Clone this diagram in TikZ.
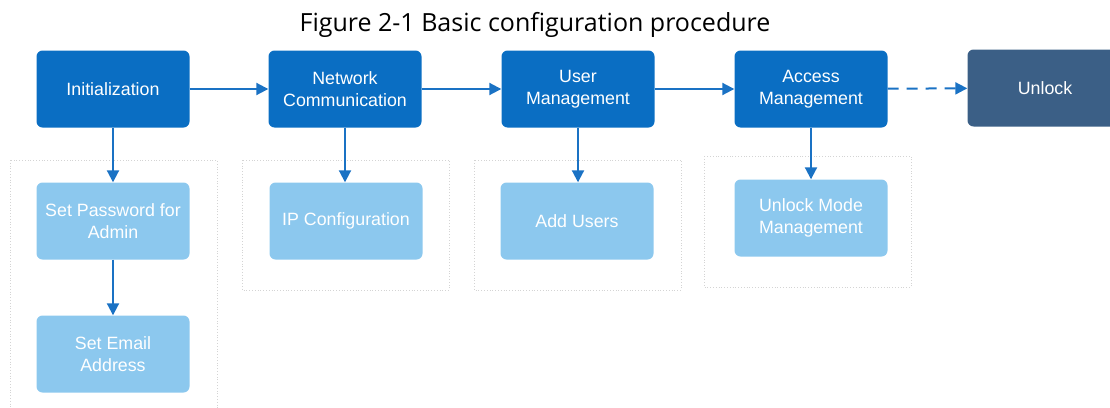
\documentclass[tikz,border=0pt]{standalone}
\usepackage{fontspec}
\setmainfont{Liberation Sans}
\newfontfamily\captionfont{Open Sans}
\usetikzlibrary{arrows.meta}
\definecolor{stepblue}{HTML}{0A6EC3}
\definecolor{subblue}{HTML}{8CC8EE}
\definecolor{endblue}{HTML}{3B5F86}
\definecolor{arrowblue}{HTML}{1A72C4}
\definecolor{framegray}{HTML}{D4D4D4}

\begin{document}
\begin{tikzpicture}[x=1pt,y=-1pt,
  every node/.style={font=\fontsize{17.8}{21.5}\selectfont, text=white, align=center},
  stepbox/.style={rectangle, rounded corners=6pt, fill=stepblue, minimum width=153pt, minimum height=77pt},
  subbox/.style={stepbox, fill=subblue},
  endbox/.style={stepbox, fill=endblue, minimum width=155pt},
  flow/.style={draw=arrowblue, line width=2pt, -{Triangle[length=12pt,width=12pt]}},
  frame/.style={draw=framegray, dotted, line width=0.8pt}]
  \useasboundingbox (0,0) rectangle (1110,407);
  \node[text=black, font=\captionfont\fontsize{25}{30}\selectfont] (title) at (535,25) {Figure 2-1 Basic configuration procedure};

  % dotted frames round the sub steps
  \draw[frame] (10,160) rectangle (217,420);
  \draw[frame] (242,160) rectangle (449,290);
  \draw[frame] (474,160) rectangle (681,290);
  \draw[frame] (704,156) rectangle (911,287);

  % main steps
  \node[stepbox] (init) at (113,89) {Initialization};
  \node[stepbox] (net) at (345,89) {Network\\Communication};
  \node[stepbox] (user) at (578,89) {User\\Management};
  \node[stepbox] (access) at (811,89) {Access\\Management};
  \node[endbox] (unlock) at (1045,88) {Unlock};

  % sub steps
  \node[subbox] (pwd) at (113,221) {Set Password for\\Admin};
  \node[subbox] (mail) at (113,354) {Set Email\\Address};
  \node[subbox] (ip) at (346,221) {IP Configuration};
  \node[subbox] (add) at (577,221) {Add Users};
  \node[subbox] (mode) at (811,218) {Unlock Mode\\Management};

  \draw[flow] (init) -- (net);
  \draw[flow] (net) -- (user);
  \draw[flow] (user) -- (access);
  \draw[flow, dash pattern=on 11pt off 8pt] (access) -- (unlock);
  \draw[flow] (init) -- (pwd);
  \draw[flow] (pwd) -- (mail);
  \draw[flow] (net.south) -- (ip.north -| net.south);
  \draw[flow] (user.south) -- (add.north -| user.south);
  \draw[flow] (access) -- (mode);
\end{tikzpicture}
\end{document}
